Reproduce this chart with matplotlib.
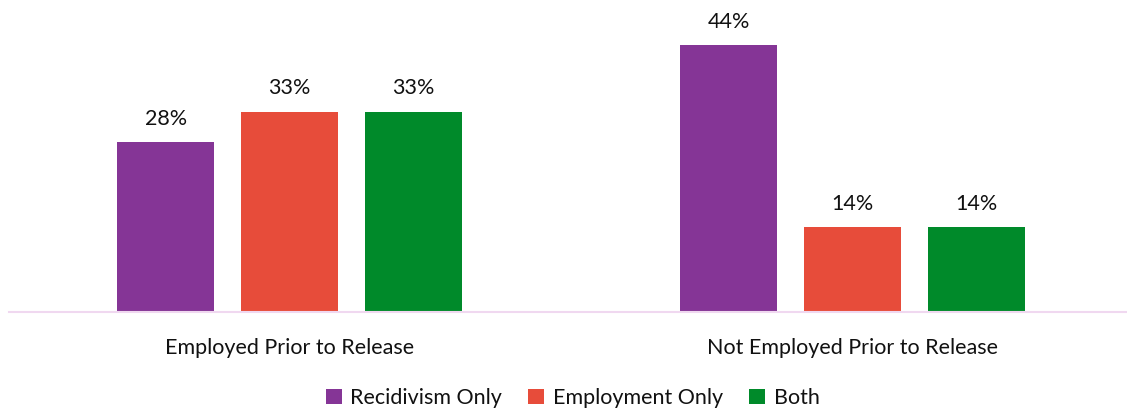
import matplotlib
matplotlib.use("Agg")
import matplotlib.pyplot as plt
import numpy as np

plt.rcParams['font.family'] = ['Lato', 'DejaVu Sans']

categories = ["Employed Prior to Release", "Not Employed Prior to Release"]
series_names = ["Recidivism Only", "Employment Only", "Both"]
recidivism_only = [28, 44]
employment_only = [33, 14]
both = [33, 14]
colors = ["#853596", "#E74C3A", "#008A2A"]

fig = plt.figure(figsize=(11.27, 4.11), dpi=100)
ax = fig.add_axes([9/1127, 1 - 312/411, 1 - 9/1127, 312/411])

x = np.arange(len(categories))
width = 0.172
offsets = [-0.22, 0.0, 0.22]
for vals, off, col, name in zip([recidivism_only, employment_only, both], offsets, colors, series_names):
    bars = ax.bar(x + off, vals, width=width, color=col, label=name, zorder=2)
    for b, v in zip(bars, vals):
        ax.text(b.get_x() + b.get_width()/2, v + 2.2, f"{v}%", ha='center', va='bottom',
                fontsize=15.5, color='#111111')

ax.set_xlim(-0.4985, 1.4875)
ax.set_ylim(0, 51.4)
for s in ['top', 'right', 'left']:
    ax.spines[s].set_visible(False)
ax.spines['bottom'].set_color('#F0D8F0')
ax.spines['bottom'].set_linewidth(1.5)
ax.set_yticks([])
ax.set_xticks(x)
ax.set_xticklabels(categories, fontsize=15.5, color='#111111')
ax.tick_params(axis='x', length=0, pad=19)

fig.legend(loc='center', bbox_to_anchor=(0.508, 1 - 398/411), ncol=3, frameon=False,
           fontsize=15.5, handlelength=0.75, handleheight=0.75, handletextpad=0.4, columnspacing=1.2,
           labelcolor='#111111')

fig.savefig("out.png", dpi=100)
